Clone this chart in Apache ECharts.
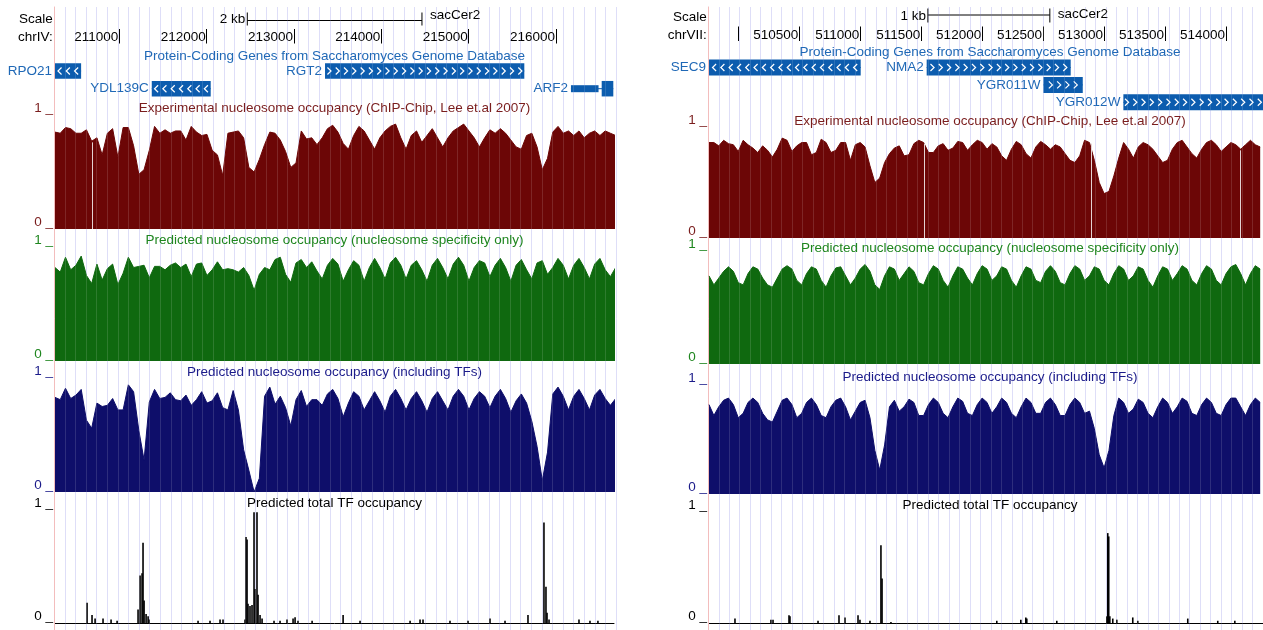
<!DOCTYPE html>
<html>
<head>
<meta charset="utf-8">
<script src="https://cdn.jsdelivr.net/npm/echarts@6/dist/echarts.min.js"></script>
<style>
  html, body { margin: 0; padding: 0; background: #ffffff; }
  #chart { width: 1263px; height: 630px; }
</style>
</head>
<body>
<div id="chart"></div>
<script>
// ---------------- chrIV window ----------------
const chrIVStart = 210263, chrIVEnd = 216664, chrIVStep = 60;
const chrIVTicks = [211000, 212000, 213000, 214000, 215000, 216000];
const chrIVTickLabels = [211000, 212000, 213000, 214000, 215000, 216000];
const chrIVScaleBar = [212465, 214465];
const chrIVGenes = [
  { name: 'RPO21',   strand: '-', row: 0, exons: [[210000, 210562]] },
  { name: 'YDL139C', strand: '-', row: 1, exons: [[211371, 212046]] },
  { name: 'RGT2',    strand: '+', row: 0, exons: [[213355, 215637]] },
  { name: 'ARF2',    strand: '+', row: 1, exons: [[216523, 216656]], utr: [[216171, 216487]] }
];
// nucleosome occupancy, one value every chrIVStep bp from chrIVStart
const chrIVExp = [
  0.85,0.84,0.89,0.88,0.84,0.84,0.87,0.77,0.80,0.65,
  0.84,0.88,0.63,0.89,0.89,0.73,0.48,0.52,0.69,0.90,
  0.84,0.87,0.84,0.86,0.86,0.78,0.90,0.85,0.82,0.83,
  0.69,0.65,0.47,0.84,0.85,0.86,0.80,0.54,0.50,0.61,
  0.74,0.85,0.84,0.78,0.68,0.54,0.58,0.86,0.79,0.80,
  0.74,0.80,0.88,0.91,0.85,0.75,0.70,0.82,0.90,0.86,
  0.78,0.70,0.80,0.86,0.90,0.92,0.80,0.70,0.82,0.86,
  0.76,0.82,0.88,0.80,0.72,0.80,0.86,0.89,0.92,0.86,
  0.80,0.72,0.80,0.87,0.84,0.88,0.84,0.78,0.72,0.70,
  0.82,0.84,0.72,0.52,0.62,0.85,0.90,0.84,0.86,0.82,
  0.86,0.80,0.84,0.86,0.82,0.86,0.84,0.82
];
const chrIVSpec = [
  0.82,0.78,0.91,0.80,0.84,0.92,0.75,0.68,0.85,0.71,
  0.81,0.85,0.67,0.77,0.91,0.82,0.83,0.84,0.73,0.83,
  0.83,0.80,0.84,0.86,0.82,0.85,0.74,0.85,0.86,0.75,
  0.80,0.87,0.80,0.81,0.80,0.78,0.82,0.75,0.62,0.76,
  0.82,0.80,0.89,0.91,0.76,0.69,0.86,0.89,0.82,0.87,
  0.79,0.72,0.84,0.90,0.85,0.70,0.80,0.88,0.84,0.70,
  0.82,0.90,0.82,0.72,0.86,0.91,0.84,0.72,0.84,0.88,
  0.80,0.70,0.84,0.90,0.82,0.72,0.85,0.91,0.84,0.70,
  0.82,0.88,0.86,0.74,0.84,0.90,0.82,0.70,0.84,0.89,
  0.80,0.72,0.86,0.88,0.76,0.82,0.90,0.84,0.72,0.84,
  0.90,0.82,0.72,0.85,0.90,0.80,0.74,0.82
];
const chrIVWithTF = [
  0.83,0.81,0.91,0.82,0.85,0.90,0.63,0.56,0.78,0.75,
  0.76,0.82,0.72,0.72,0.94,0.88,0.54,0.28,0.79,0.90,
  0.82,0.83,0.87,0.81,0.80,0.85,0.76,0.81,0.88,0.78,
  0.80,0.87,0.74,0.72,0.89,0.72,0.37,0.19,0.00,0.12,
  0.84,0.92,0.77,0.84,0.74,0.58,0.81,0.89,0.75,0.81,
  0.81,0.76,0.86,0.90,0.82,0.66,0.78,0.88,0.84,0.72,
  0.80,0.88,0.80,0.70,0.84,0.90,0.82,0.72,0.82,0.88,
  0.80,0.70,0.82,0.88,0.80,0.72,0.84,0.90,0.84,0.72,
  0.82,0.88,0.84,0.74,0.84,0.90,0.82,0.70,0.80,0.86,
  0.78,0.62,0.40,0.10,0.35,0.86,0.92,0.84,0.72,0.84,
  0.90,0.82,0.72,0.85,0.90,0.82,0.76,0.82
];
// TF occupancy peaks: [position bp, occupancy]
const chrIVTF = [
  [210630,0.18],[210687,0.07],[210722,0.04],[210813,0.04],[210905,0.03],[210974,0.02],
  [211214,0.12],[211237,0.42],[211260,0.44],[211271,0.71],[211283,0.20],[211306,0.08],
  [211329,0.06],[211340,0.03],[211901,0.02],[212038,0.02],[212153,0.03],[212187,0.03],
  [212439,0.03],[212450,0.76],[212462,0.74],[212473,0.17],[212496,0.15],[212519,0.16],
  [212542,0.98],[212553,0.30],[212576,0.98],[212588,0.25],[212611,0.07],[212634,0.04],
  [212771,0.02],[212840,0.02],[212920,0.03],[212989,0.04],[213012,0.05],[213046,0.02],
  [213207,0.02],[213562,0.07],[213756,0.02],[214329,0.02],[214443,0.03],[214477,0.03],
  [214786,0.02],[214992,0.02],[215244,0.04],[215416,0.02],[215679,0.07],[215862,0.89],
  [215885,0.32],[215897,0.09],[215920,0.03],[216263,0.03],[216389,0.02],[216480,0.02]
];
const chrIVGaps = [210693];

// ---------------- chrVII window ----------------
const chrVIIStart = 509760, chrVIIEnd = 514303, chrVIIStep = 40;
const chrVIITicks = [510000, 510500, 511000, 511500, 512000, 512500, 513000, 513500, 514000];
const chrVIITickLabels = [510500, 511000, 511500, 512000, 512500, 513000, 513500, 514000];
const chrVIIScaleBar = [511555, 512555];
const chrVIIGenes = [
  { name: 'SEC9',    strand: '-', row: 0, exons: [[509000, 511004]] },
  { name: 'NMA2',    strand: '+', row: 0, exons: [[511545, 512726]] },
  { name: 'YGR011W', strand: '+', row: 1, exons: [[512502, 512825]] },
  { name: 'YGR012W', strand: '+', row: 2, exons: [[513158, 514600]] }
];
const chrVIIExp = [
  0.86,0.86,0.83,0.88,0.85,0.84,0.78,0.88,0.84,0.81,
  0.77,0.83,0.79,0.73,0.80,0.90,0.88,0.78,0.83,0.86,
  0.86,0.75,0.77,0.89,0.86,0.77,0.79,0.86,0.86,0.70,
  0.84,0.86,0.82,0.65,0.50,0.54,0.68,0.76,0.81,0.83,
  0.74,0.75,0.85,0.88,0.86,0.77,0.77,0.83,0.85,0.79,
  0.81,0.87,0.86,0.79,0.84,0.88,0.86,0.80,0.85,0.82,
  0.74,0.70,0.80,0.87,0.84,0.76,0.72,0.82,0.87,0.84,
  0.80,0.84,0.82,0.76,0.70,0.68,0.74,0.88,0.86,0.70,
  0.50,0.40,0.42,0.56,0.72,0.86,0.80,0.72,0.82,0.86,
  0.84,0.80,0.74,0.68,0.70,0.80,0.86,0.88,0.82,0.76,
  0.72,0.80,0.86,0.88,0.84,0.78,0.82,0.86,0.84,0.80,
  0.84,0.88,0.84,0.82
];
const chrVIISpec = [
  0.78,0.70,0.76,0.82,0.86,0.82,0.72,0.70,0.80,0.86,
  0.84,0.76,0.70,0.68,0.76,0.84,0.87,0.84,0.74,0.70,
  0.80,0.86,0.84,0.74,0.68,0.78,0.85,0.86,0.78,0.70,
  0.76,0.84,0.88,0.82,0.70,0.66,0.78,0.86,0.84,0.74,
  0.80,0.86,0.82,0.72,0.70,0.80,0.87,0.84,0.74,0.68,
  0.78,0.86,0.84,0.76,0.70,0.80,0.87,0.84,0.74,0.78,
  0.86,0.84,0.74,0.68,0.78,0.86,0.84,0.74,0.72,0.82,
  0.87,0.82,0.72,0.70,0.80,0.87,0.84,0.74,0.78,0.86,
  0.84,0.74,0.70,0.80,0.87,0.84,0.74,0.78,0.86,0.84,
  0.74,0.68,0.78,0.86,0.84,0.74,0.80,0.87,0.84,0.74,
  0.70,0.80,0.87,0.84,0.74,0.70,0.80,0.86,0.88,0.80,
  0.70,0.80,0.87,0.84
];
const chrVIIWithTF = [
  0.82,0.72,0.80,0.86,0.88,0.82,0.70,0.74,0.84,0.88,
  0.84,0.74,0.68,0.66,0.76,0.86,0.88,0.82,0.70,0.74,
  0.84,0.88,0.82,0.72,0.70,0.80,0.86,0.88,0.80,0.68,
  0.76,0.84,0.86,0.70,0.40,0.22,0.45,0.80,0.86,0.76,
  0.80,0.87,0.84,0.72,0.72,0.82,0.88,0.84,0.74,0.70,
  0.80,0.88,0.85,0.74,0.72,0.82,0.88,0.84,0.74,0.80,
  0.88,0.84,0.74,0.70,0.80,0.88,0.84,0.74,0.74,0.84,
  0.88,0.82,0.72,0.72,0.82,0.88,0.84,0.74,0.76,0.60,
  0.36,0.24,0.40,0.72,0.88,0.84,0.74,0.78,0.87,0.84,
  0.74,0.70,0.80,0.88,0.84,0.74,0.80,0.88,0.85,0.74,
  0.72,0.82,0.88,0.84,0.74,0.72,0.82,0.88,0.88,0.80,
  0.72,0.82,0.88,0.84
];
const chrVIITF = [
  [509973,0.04],[510268,0.03],[510285,0.03],[510416,0.07],[510424,0.06],[510654,0.02],
  [510826,0.07],[510875,0.05],[510982,0.07],[510998,0.03],[511080,0.02],[511170,0.70],
  [511179,0.40],[511252,0.01],[512120,0.02],[512317,0.03],[512358,0.05],[512366,0.04],
  [512612,0.02],[513022,0.06],[513030,0.81],[513038,0.78],[513047,0.06],[513071,0.04],
  [513104,0.03],[513235,0.05],[513276,0.02],[513686,0.04],[513932,0.02],[514072,0.02]
];
const chrVIIGaps = [511523, 512893, 514115];

// ---------------- styling ----------------
const FONT = "'Liberation Sans', Arial, Helvetica, sans-serif";
const FS = 13.5;
const GENE_FILL = '#0c5cae';
const GENE_TEXT = '#1f68b6';
const TRACKS = [
  { key: 'exp',  title: 'Experimental nucleosome occupancy (ChIP-Chip, Lee et.al 2007)', fill: '#6c0606', text: '#7a1d1d' },
  { key: 'spec', title: 'Predicted nucleosome occupancy (nucleosome specificity only)', fill: '#0f690f', text: '#1f861f' },
  { key: 'wtf',  title: 'Predicted nucleosome occupancy (including TFs)', fill: '#0e0e6a', text: '#1b1b8a' },
  { key: 'tf',   title: 'Predicted total TF occupancy', fill: '#000000', text: '#000000' }
];

const panels = [
  {
    chrom: 'chrIV:', start: chrIVStart, end: chrIVEnd, step: chrIVStep,
    ticks: chrIVTicks, tickLabels: chrIVTickLabels, scaleBar: chrIVScaleBar, scaleText: '2 kb',
    genes: chrIVGenes, gaps: chrIVGaps,
    data: { exp: chrIVExp, spec: chrIVSpec, wtf: chrIVWithTF, tf: chrIVTF },
    L: {
      edge: 54.3, guideTop: 7, guide: 10.6, left: 55, width: 559, center: 334.5,
      scaleY: 19.2, barY: 20.5, capTop: 12.5, capBottom: 25.5, kbY: 19, dbY: 15.3,
      chrY: 37.5, tickTop: 29, tickBottom: 43.5, genesTitleY: 55.8,
      rowCenters: [71, 88.7], rowH: 17.7, boxH: 15.5, utrH: 7,
      tracks: [ {top: 115, bottom: 229, titleY: 108}, {top: 247, bottom: 361, titleY: 240},
                {top: 378, bottom: 492, titleY: 372}, {top: 510, bottom: 623, titleY: 503.5} ]
    }
  },
  {
    chrom: 'chrVII:', start: chrVIIStart, end: chrVIIEnd, step: chrVIIStep,
    ticks: chrVIITicks, tickLabels: chrVIITickLabels, scaleBar: chrVIIScaleBar, scaleText: '1 kb',
    genes: chrVIIGenes, gaps: chrVIIGaps,
    data: { exp: chrVIIExp, spec: chrVIISpec, wtf: chrVIIWithTF, tf: chrVIITF },
    L: {
      edge: 708.3, guideTop: 7, guide: 10.6, left: 709, width: 554, center: 990,
      scaleY: 17, barY: 15, capTop: 8.5, capBottom: 22.5, kbY: 16.7, dbY: 14,
      chrY: 35, tickTop: 26.5, tickBottom: 41, genesTitleY: 52.5,
      rowCenters: [67.5, 85, 102.3], rowH: 17.4, boxH: 16, utrH: 7,
      tracks: [ {top: 127, bottom: 238, titleY: 121}, {top: 251, bottom: 364, titleY: 248},
                {top: 385, bottom: 494, titleY: 377}, {top: 512, bottom: 623, titleY: 505} ]
    }
  }
];

// ---------------- option assembly ----------------
const grids = [], xAxes = [], yAxes = [], series = [], graphics = [];
function addGrid(grid, xAxis, yAxis) {
  grids.push(grid);
  const idx = grids.length - 1;
  xAxis.gridIndex = idx; yAxis.gridIndex = idx;
  xAxes.push(xAxis); yAxes.push(yAxis);
  return idx;
}
function txt(x, y, text, color, align) {
  return {
    type: 'text', x: x, y: y, z: 20, silent: true,
    style: { text: text, fill: color, font: FS + 'px ' + FONT,
             align: align, textAlign: align, verticalAlign: 'middle', textVerticalAlign: 'middle' }
  };
}
const hiddenAxis = (min, max) => ({ type: 'value', min: min, max: max, show: false });

panels.forEach(p => {
  const L = p.L;
  const nGuides = 53;

  // guideline backdrop with the pink left edge
  addGrid({ left: L.edge, top: L.guideTop, width: nGuides * L.guide, bottom: 0 },
    { type: 'value', min: 0, max: nGuides, interval: 1, axisLine: { show: false }, axisTick: { show: false },
      axisLabel: { show: false }, splitLine: { show: true, lineStyle: { color: '#d9d9f7', width: 1 } } },
    { type: 'value', min: 0, max: 1, z: 3, axisLine: { show: true, lineStyle: { color: '#f2b4b4', width: 1 } },
      axisTick: { show: false }, axisLabel: { show: false }, splitLine: { show: false } });
  // faint guidelines showing through the filled tracks
  addGrid({ left: L.edge, top: L.guideTop, width: nGuides * L.guide, bottom: 0 },
    { type: 'value', min: 0, max: nGuides, interval: 1, z: 6, axisLine: { show: false }, axisTick: { show: false },
      axisLabel: { show: false }, splitLine: { show: true, lineStyle: { color: 'rgba(255,255,255,0.13)', width: 1 } } },
    { type: 'value', min: 0, max: 1, show: false });

  // base-position ruler
  const rIdx = addGrid({ left: L.left, width: L.width, top: L.tickTop, height: L.tickBottom - L.tickTop },
    { type: 'value', min: p.start, max: p.end, position: 'bottom',
      axisLine: { show: false },
      axisTick: { show: true, inside: true, length: L.tickBottom - L.tickTop, customValues: p.ticks,
                  lineStyle: { color: '#000', width: 1 } },
      axisLabel: { show: true, inside: true, customValues: p.tickLabels, formatter: v => String(v),
                   align: 'right', verticalAlign: 'middle', margin: L.tickBottom - L.chrY,
                   color: '#000', fontSize: FS, fontFamily: FONT, padding: [0, 1, 0, 0] },
      splitLine: { show: false } },
    { type: 'value', min: 0, max: 1, show: false });
  series.push({
    type: 'custom', xAxisIndex: rIdx, yAxisIndex: rIdx, clip: false, silent: true,
    data: [[p.scaleBar[0], p.scaleBar[1]]],
    renderItem: (params, api) => {
      const x1 = api.coord([api.value(0), 0])[0];
      const x2 = api.coord([api.value(1), 0])[0];
      const ln = (a, b, c, d) => ({ type: 'line', shape: { x1: a, y1: b, x2: c, y2: d }, style: { stroke: '#000', lineWidth: 1 } });
      const t = (x, y, s, al) => ({ type: 'text', x: x, y: y,
        style: { text: s, fill: '#000', font: FS + 'px ' + FONT, align: al, textAlign: al, verticalAlign: 'middle', textVerticalAlign: 'middle' } });
      return { type: 'group', children: [
        ln(x1, L.barY, x2, L.barY), ln(x1, L.capTop, x1, L.capBottom), ln(x2, L.capTop, x2, L.capBottom),
        t(x1 - 2, L.kbY, p.scaleText, 'right'), t(x2 + 8, L.dbY, 'sacCer2', 'left')
      ] };
    }
  });
  graphics.push(txt(L.edge - 1.5, L.scaleY, 'Scale', '#000', 'right'));
  graphics.push(txt(L.edge - 1.5, L.chrY, p.chrom, '#000', 'right'));

  // gene models
  const rows = L.rowCenters.length;
  const gIdx = addGrid({ left: L.left, width: L.width, top: L.rowCenters[0] - L.rowH / 2, height: rows * L.rowH },
    hiddenAxis(p.start, p.end),
    { type: 'value', min: -0.5, max: rows - 0.5, inverse: true, show: false });
  graphics.push(txt(L.center, L.genesTitleY, 'Protein-Coding Genes from Saccharomyces Genome Database', GENE_TEXT, 'center'));
  series.push({
    type: 'custom', xAxisIndex: gIdx, yAxisIndex: gIdx, clip: false, silent: true,
    data: p.genes.map(g => [g.exons[0][0], g.row]),
    renderItem: (params, api) => {
      const g = p.genes[params.dataIndex];
      const yc = api.coord([p.start, g.row])[1];
      const px = v => api.coord([Math.min(Math.max(v, p.start), p.end), g.row])[0];
      const spans = g.exons.concat(g.utr || []);
      const lo = Math.min(...spans.map(s => s[0])), hi = Math.max(...spans.map(s => s[1]));
      const kids = [];
      kids.push({ type: 'line', shape: { x1: px(lo), y1: yc, x2: px(hi), y2: yc }, style: { stroke: GENE_FILL, lineWidth: 1 } });
      (g.utr || []).forEach(s => kids.push({ type: 'rect',
        shape: { x: px(s[0]), y: yc - L.utrH / 2, width: px(s[1]) - px(s[0]), height: L.utrH }, style: { fill: GENE_FILL } }));
      g.exons.forEach(s => {
        const x0 = px(s[0]), x1 = px(s[1]), w = x1 - x0;
        kids.push({ type: 'rect', shape: { x: x0, y: yc - L.boxH / 2, width: w, height: L.boxH }, style: { fill: GENE_FILL } });
        const sp = 8.3;
        const n = Math.floor((w + 2) / sp);
        if (w > 14 && n > 0) {
          const first = x0 + (w - (n - 1) * sp) / 2;
          for (let k = 0; k < n; k++) {
            const cx = first + k * sp;
            const d = g.strand === '+' ? 1 : -1;
            kids.push({ type: 'polyline',
              shape: { points: [[cx - 1.8 * d, yc - 3.5], [cx + 1.8 * d, yc], [cx - 1.8 * d, yc + 3.5]] },
              style: { stroke: '#ffffff', lineWidth: 1.2, fill: null } });
          }
        }
      });
      kids.push({ type: 'text', x: px(lo) - 3, y: yc,
        style: { text: g.name, fill: GENE_TEXT, font: FS + 'px ' + FONT, align: 'right', textAlign: 'right',
                 verticalAlign: 'middle', textVerticalAlign: 'middle' } });
      return { type: 'group', children: kids };
    }
  });

  // signal tracks
  TRACKS.forEach((t, k) => {
    const box = L.tracks[k];
    const isTF = t.key === 'tf';
    const idx = addGrid({ left: L.left, width: L.width, top: box.top, height: box.bottom - box.top },
      { type: 'value', min: p.start, max: p.end, show: isTF,
        axisLine: { show: isTF, onZero: false, lineStyle: { color: '#000', width: 1 } },
        axisTick: { show: false }, axisLabel: { show: false }, splitLine: { show: false } },
      { type: 'value', min: 0, max: 1, interval: 1,
        axisLine: { show: false }, axisTick: { show: false }, splitLine: { show: false },
        axisLabel: { formatter: v => v + ' _', color: t.text, fontSize: FS, fontFamily: FONT,
                     margin: 2, verticalAlign: 'bottom' } });
    graphics.push(txt(L.center, box.titleY, t.title, t.text, 'center'));
    const vals = p.data[t.key];
    if (isTF) {
      series.push({ type: 'bar', xAxisIndex: idx, yAxisIndex: idx, data: vals, barWidth: 1.6,
        itemStyle: { color: t.fill }, silent: true });
    } else {
      const s = { type: 'line', xAxisIndex: idx, yAxisIndex: idx,
        data: vals.map((v, i) => [p.start + i * p.step, v]),
        symbol: 'none', showSymbol: false, silent: true,
        lineStyle: { color: t.fill, width: 1 }, areaStyle: { color: t.fill, opacity: 1 } };
      if (t.key === 'exp') {
        // positions without a measurement
        s.markLine = { symbol: 'none', silent: true, animation: false, label: { show: false },
          lineStyle: { color: '#e4d2d2', width: 1, type: 'solid' },
          data: p.gaps.map(gp => {
            const v = vals[Math.round((gp - p.start) / p.step)];
            return [{ coord: [gp, 0] }, { coord: [gp, v - 0.01] }];
          }) };
      }
      series.push(s);
    }
  });
});

const chart = echarts.init(document.getElementById('chart'), null, { renderer: 'canvas' });
chart.setOption({
  animation: false,
  backgroundColor: '#ffffff',
  textStyle: { fontFamily: FONT },
  grid: grids, xAxis: xAxes, yAxis: yAxes, series: series,
  graphic: { elements: graphics }
});
</script>
</body>
</html>
